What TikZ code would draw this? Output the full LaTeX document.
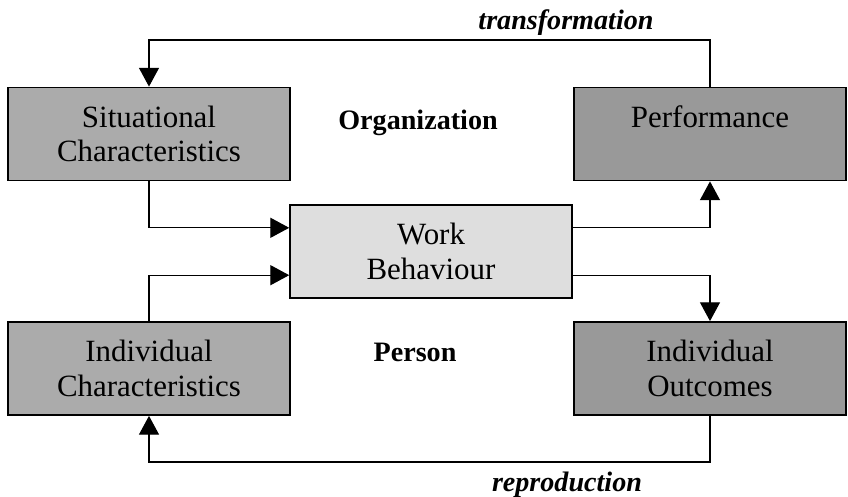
\documentclass[tikz,border=0pt]{standalone}
\usepackage{fontspec}
\setmainfont{Liberation Serif}
\usetikzlibrary{arrows.meta,calc}

\tikzset{
  box/.style={draw=black, line width=1.1pt, minimum height=2.33cm, align=center,
    inner sep=0pt, font=\fontsize{22}{24.5}\selectfont},
  arr/.style={line width=0.85pt, -{Triangle[width=0.5cm,length=0.47cm]}},
  lbl/.style={font=\fontsize{20}{24}\selectfont\bfseries}
}

\begin{document}
\begin{tikzpicture}[x=0.025cm,y=-0.025cm]
\useasboundingbox (0,0) rectangle (848,497);
% boxes
\node[box, fill=black!33, minimum width=7.05cm] (sit) at (149,134) {Situational\\Characteristics};
\node[box, fill=black!40, minimum width=6.8cm] (perf) at (710,134) {Performance\\ \mbox{}};
\node[box, fill=black!13, minimum width=7.05cm] (work) at (431,251.5) {Work\\Behaviour};
\node[box, fill=black!33, minimum width=7.05cm] (indc) at (149,368.5) {Individual\\Characteristics};
\node[box, fill=black!40, minimum width=6.8cm] (outc) at (710,368.5) {Individual\\Outcomes};
% labels
\node[lbl] (org) at (418,123) {Organization};
\node[lbl] (pers) at (415,352) {Person};
\node[lbl] (trans) at (566,23) {\itshape transformation};
\node[lbl] (repr) at (567,485) {\itshape reproduction};
\coordinate (top) at (0,40);
\coordinate (bot) at (0,462);
% connectors
\draw[arr] (sit.south) |- ($(work.north west)!0.25!(work.south west)$);
\draw[arr] (indc.north) |- ($(work.north west)!0.75!(work.south west)$);
\draw[arr] ($(work.north east)!0.25!(work.south east)$) -| (perf.south);
\draw[arr] ($(work.north east)!0.75!(work.south east)$) -| (outc.north);
\draw[arr] (perf.north) |- (top -| sit.north) -- (sit.north);
\draw[arr] (outc.south) |- (bot -| indc.south) -- (indc.south);
\end{tikzpicture}
\end{document}
